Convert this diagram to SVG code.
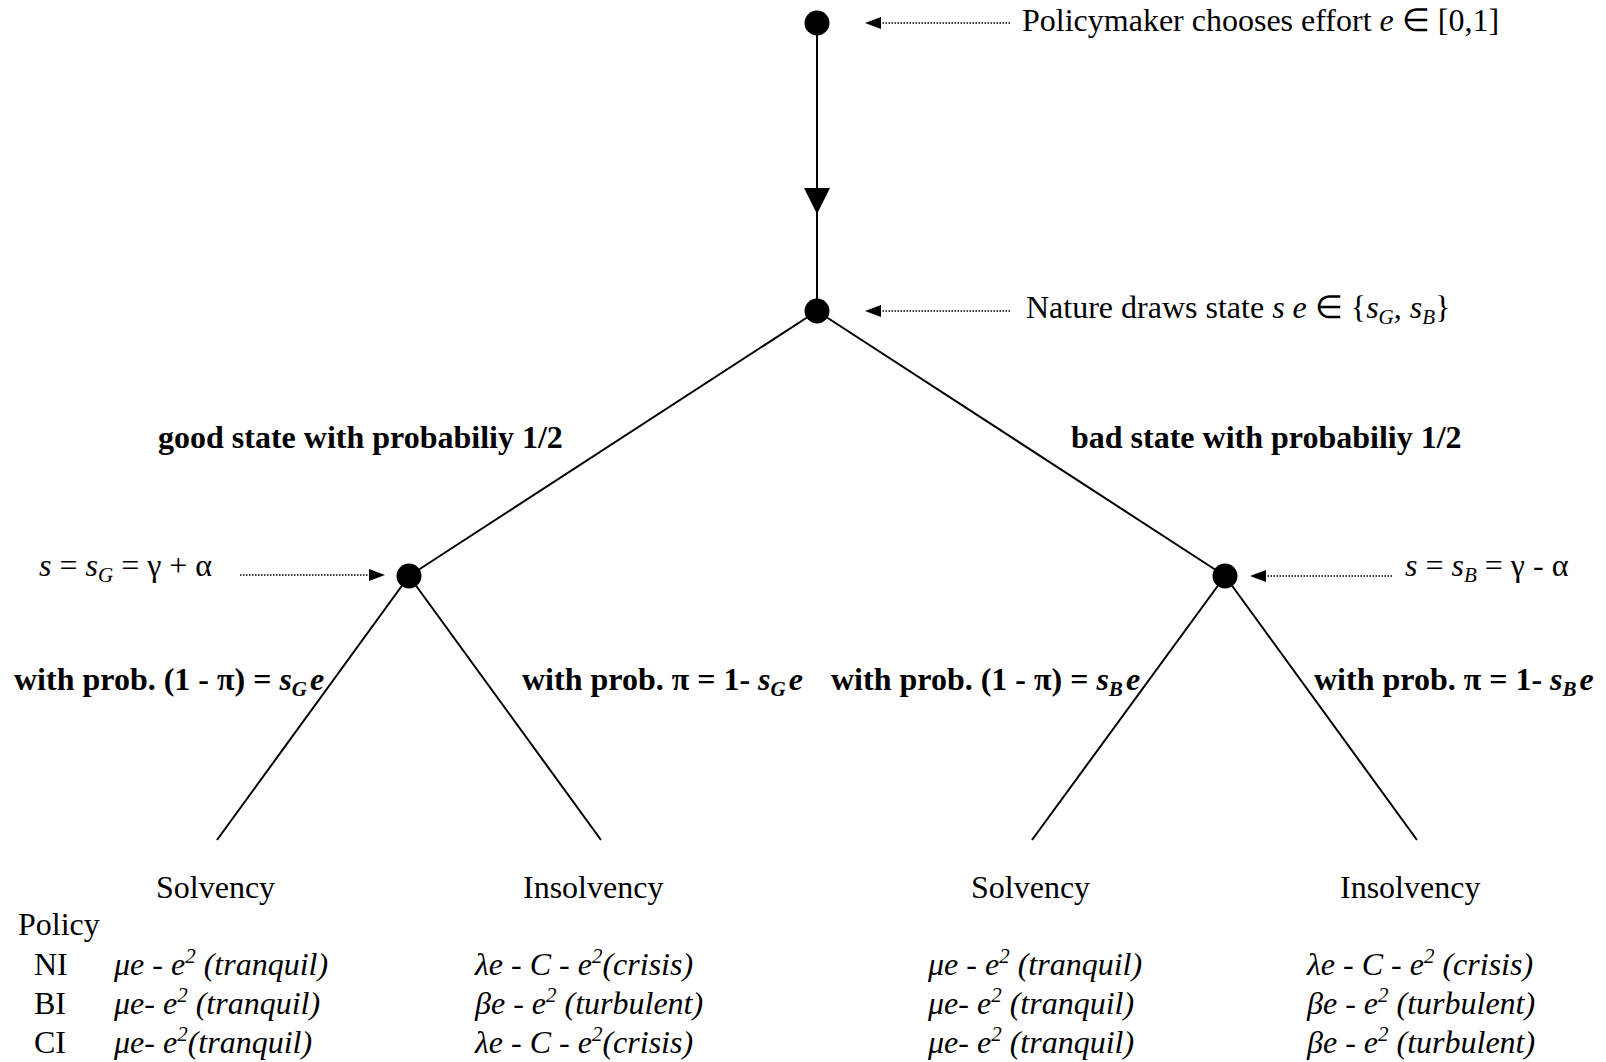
<svg xmlns="http://www.w3.org/2000/svg" width="1606" height="1062" viewBox="0 0 1606 1062">
<style>
text{font-family:"Liberation Serif","Times New Roman",serif;font-size:32px;fill:#000}
.b{font-weight:bold}
.i{font-style:italic}
.sub{font-size:21px}
.edge{stroke:#000;stroke-width:2;fill:none}
.dot{stroke:#000;stroke-width:1.5;stroke-dasharray:1.5 1.5;fill:none}
.node{fill:#000}
.ah{fill:#000}
</style>
<rect width="1606" height="1062" fill="#fff"/>
<g id="connectors">
  <line class="edge" x1="817" y1="23" x2="817" y2="311"/>
  <polygon class="ah" points="804,188 830,188 817,214"/>
  <line class="edge" x1="817" y1="311" x2="409" y2="576"/>
  <line class="edge" x1="817" y1="311" x2="1225" y2="576"/>
  <line class="edge" x1="409" y1="576" x2="217" y2="840"/>
  <line class="edge" x1="409" y1="576" x2="601" y2="840"/>
  <line class="edge" x1="1225" y1="576" x2="1032" y2="840"/>
  <line class="edge" x1="1225" y1="576" x2="1417" y2="840"/>
  <line class="dot" x1="1010" y1="23" x2="879" y2="23"/>
  <polygon class="ah" points="865,23 881,17 881,29"/>
  <line class="dot" x1="1010" y1="311" x2="879" y2="311"/>
  <polygon class="ah" points="865,311 881,305 881,317"/>
  <line class="dot" x1="240" y1="575" x2="371" y2="575"/>
  <polygon class="ah" points="385,575 369,569 369,581"/>
  <line class="dot" x1="1392" y1="576" x2="1264" y2="576"/>
  <polygon class="ah" points="1250,576 1266,570 1266,582"/>
</g>
<g id="node-policymaker"><circle class="node" cx="817" cy="23" r="12.5"/></g>
<g id="node-nature"><circle class="node" cx="817" cy="311" r="12.5"/></g>
<g id="node-good"><circle class="node" cx="409" cy="576" r="12.5"/></g>
<g id="node-bad"><circle class="node" cx="1225" cy="576" r="12.5"/></g>
<g id="labels">
  <text x="1022" y="31">Policymaker chooses effort <tspan class="i">e</tspan> ∈ [0,1]</text>
  <text x="1026" y="318">Nature draws state <tspan class="i">s e</tspan> ∈ {<tspan class="i">s</tspan><tspan class="i sub" dy="6">G</tspan><tspan dy="-6">, </tspan><tspan class="i">s</tspan><tspan class="i sub" dy="6">B</tspan><tspan dy="-6">}</tspan></text>
  <text class="b" x="158" y="448">good state with probabiliy 1/2</text>
  <text class="b" x="1071" y="448">bad state with probabiliy 1/2</text>
  <text x="39" y="576"><tspan class="i">s</tspan> = <tspan class="i">s</tspan><tspan class="i sub" dy="6">G</tspan><tspan dy="-6"> = γ + α</tspan></text>
  <text x="1405" y="576"><tspan class="i">s</tspan> = <tspan class="i">s</tspan><tspan class="i sub" dy="6">B</tspan><tspan dy="-6"> = γ - α</tspan></text>
  <text class="b" x="14" y="690">with prob. (1 - π) = <tspan class="i">s</tspan><tspan class="i sub" dy="6">G</tspan><tspan class="i" dy="-6" dx="3">e</tspan></text>
  <text class="b" x="522" y="690">with prob. π = 1- <tspan class="i">s</tspan><tspan class="i sub" dy="6">G</tspan><tspan class="i" dy="-6" dx="3">e</tspan></text>
  <text class="b" x="831" y="690">with prob. (1 - π) = <tspan class="i">s</tspan><tspan class="i sub" dy="6">B</tspan><tspan class="i" dy="-6" dx="3">e</tspan></text>
  <text class="b" x="1314" y="690">with prob. π = 1- <tspan class="i">s</tspan><tspan class="i sub" dy="6">B</tspan><tspan class="i" dy="-6" dx="3">e</tspan></text>
</g>
<g id="outcomes">
  <text x="156" y="898">Solvency</text>
  <text x="523" y="898">Insolvency</text>
  <text x="971" y="898">Solvency</text>
  <text x="1340" y="898">Insolvency</text>
  <text x="18" y="935">Policy</text>
  <text x="34" y="975">NI</text>
  <text x="34" y="1014">BI</text>
  <text x="34" y="1053">CI</text>
  <g class="i">
    <text class="i" x="114" y="975">μe - e<tspan class="sub" dy="-12">2</tspan><tspan dy="12"> (tranquil)</tspan></text>
    <text class="i" x="114" y="1014">μe- e<tspan class="sub" dy="-12">2</tspan><tspan dy="12"> (tranquil)</tspan></text>
    <text class="i" x="114" y="1053">μe- e<tspan class="sub" dy="-12">2</tspan><tspan dy="12">(tranquil)</tspan></text>
    <text class="i" x="475" y="975">λe - C - e<tspan class="sub" dy="-12">2</tspan><tspan dy="12">(crisis)</tspan></text>
    <text class="i" x="475" y="1014">βe - e<tspan class="sub" dy="-12">2</tspan><tspan dy="12"> (turbulent)</tspan></text>
    <text class="i" x="475" y="1053">λe - C - e<tspan class="sub" dy="-12">2</tspan><tspan dy="12">(crisis)</tspan></text>
    <text class="i" x="928" y="975">μe - e<tspan class="sub" dy="-12">2</tspan><tspan dy="12"> (tranquil)</tspan></text>
    <text class="i" x="928" y="1014">μe- e<tspan class="sub" dy="-12">2</tspan><tspan dy="12">  (tranquil)</tspan></text>
    <text class="i" x="928" y="1053">μe- e<tspan class="sub" dy="-12">2</tspan><tspan dy="12">  (tranquil)</tspan></text>
    <text class="i" x="1307" y="975">λe - C - e<tspan class="sub" dy="-12">2</tspan><tspan dy="12"> (crisis)</tspan></text>
    <text class="i" x="1307" y="1014">βe - e<tspan class="sub" dy="-12">2</tspan><tspan dy="12"> (turbulent)</tspan></text>
    <text class="i" x="1307" y="1053">βe - e<tspan class="sub" dy="-12">2</tspan><tspan dy="12"> (turbulent)</tspan></text>
  </g>
</g>
</svg>
